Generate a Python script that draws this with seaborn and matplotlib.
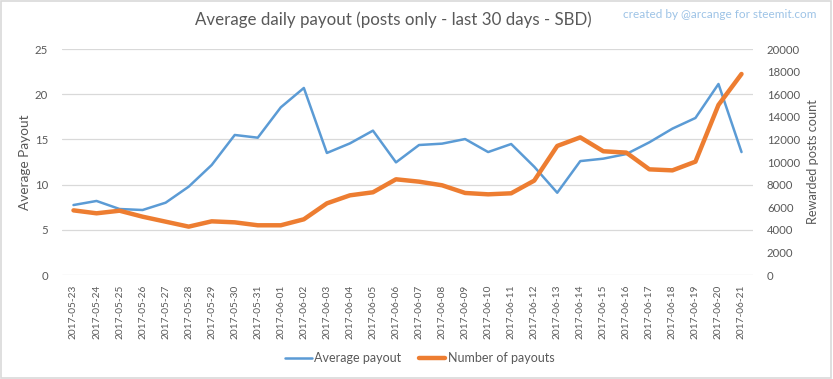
import matplotlib.pyplot as plt
import seaborn as sns
import pandas as pd
from matplotlib.patches import Rectangle

# -----------------------------
# Data
# -----------------------------
dates = [
    "2017-05-23", "2017-05-24", "2017-05-25", "2017-05-26", "2017-05-27",
    "2017-05-28", "2017-05-29", "2017-05-30", "2017-05-31", "2017-06-01",
    "2017-06-02", "2017-06-03", "2017-06-04", "2017-06-05", "2017-06-06",
    "2017-06-07", "2017-06-08", "2017-06-09", "2017-06-10", "2017-06-11",
    "2017-06-12", "2017-06-13", "2017-06-14", "2017-06-15", "2017-06-16",
    "2017-06-17", "2017-06-18", "2017-06-19", "2017-06-20", "2017-06-21",
]
avg_payout = [
    7.74, 8.19, 7.30, 7.19, 8.00, 9.77, 12.17, 15.49, 15.19, 18.55,
    20.69, 13.50, 14.56, 15.97, 12.46, 14.38, 14.53, 15.04, 13.60, 14.49,
    11.98, 9.10, 12.60, 12.87, 13.38, 14.68, 16.19, 17.37, 21.13, 13.60,
]
num_payouts = [
    5720, 5460, 5690, 5160, 4720, 4280, 4750, 4660, 4400, 4400,
    4930, 6340, 7050, 7320, 8470, 8260, 7940, 7260, 7140, 7230,
    8350, 11420, 12180, 10950, 10830, 9350, 9260, 10030, 15050, 17790,
]

df = pd.DataFrame({"date": dates, "avg": avg_payout, "count": num_payouts})

sns.set_theme(style="white")
plt.rcParams["font.family"] = ["Lato", "DejaVu Sans"]

grey = "#595959"
blue = "#5B9BD5"
orange = "#ED7D31"

fig = plt.figure(figsize=(8.33, 3.79), dpi=100)
ax = fig.add_axes([0.0744, 0.2744, 0.8296, 0.5963])
ax2 = ax.twinx()

sns.lineplot(data=df, x="date", y="avg", ax=ax, color=blue, linewidth=1.8,
             sort=False, label="Average payout", legend=False)
sns.lineplot(data=df, x="date", y="count", ax=ax2, color=orange, linewidth=3.2,
             sort=False, label="Number of payouts", legend=False)

ax.set_xlim(-0.5, len(dates) - 0.5)
ax.set_ylim(0, 25)
ax2.set_ylim(0, 20000)
ax.set_yticks([0, 5, 10, 15, 20, 25])
ax2.set_yticks(range(0, 20001, 2000))

ax.yaxis.grid(True, color="#D9D9D9", linewidth=0.9)
ax.set_axisbelow(True)
for a in (ax, ax2):
    for s in a.spines.values():
        s.set_visible(False)
    a.tick_params(length=0, colors=grey, labelsize=8.2)

ax.set_xticks(range(len(dates)))
ax.set_xticklabels(dates, rotation=90, fontsize=7.3)
ax.tick_params(axis="x", pad=7)
ax.tick_params(axis="y", pad=10)
ax2.tick_params(axis="y", pad=10)

ax.set_xlabel("")
ax.set_ylabel("Average Payout", color=grey, fontsize=9.8, labelpad=3)
ax2.set_ylabel("Rewarded posts count", color=grey, fontsize=9.2, labelpad=5)

fig.text(0.472, 0.947, "Average daily payout (posts only - last 30 days - SBD)",
         ha="center", va="center", fontsize=12.2, color=grey)
fig.text(0.98, 0.962, "created by @arcange for steemit.com",
         ha="right", va="center", fontsize=8.5, color="#9DC3E6")

h1, l1 = ax.get_legend_handles_labels()
h2, l2 = ax2.get_legend_handles_labels()
fig.legend(h1 + h2, l1 + l2, loc="center", bbox_to_anchor=(0.504, 0.055),
           ncol=2, frameon=False, fontsize=9, labelcolor=grey,
           handlelength=2.1, handletextpad=0.2, columnspacing=1.4)

# light frame around the chart area
fig.patches.append(Rectangle((0.001, 0.002), 0.997, 0.996, transform=fig.transFigure,
                             fill=False, edgecolor="#D9D9D9", linewidth=1.2))

plt.savefig("out.png", dpi=100)
